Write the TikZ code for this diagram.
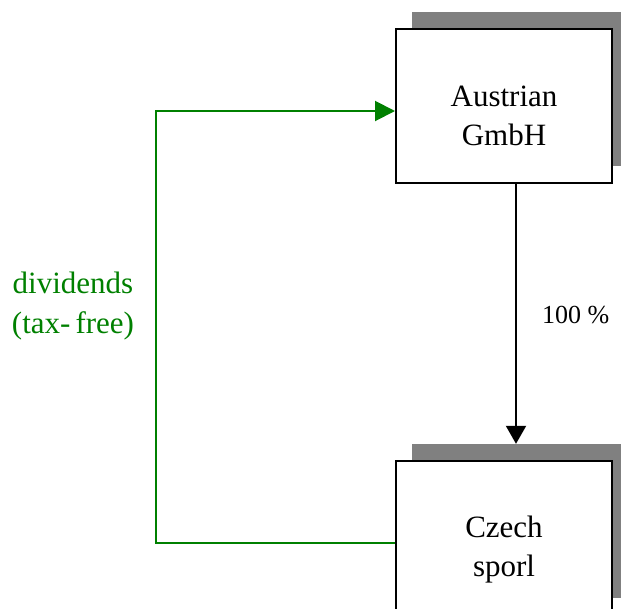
\documentclass[tikz,border=0pt]{standalone}
\usepackage{fontspec}
\setmainfont{Liberation Serif}
\usetikzlibrary{arrows.meta,calc}
\definecolor{divgreen}{RGB}{0,128,0}
\definecolor{shadowgray}{RGB}{128,128,128}
\tikzset{
  entity/.style={draw=black, line width=2pt, fill=white, minimum width=216pt, minimum height=154pt, inner sep=0pt},
  shadowbox/.style={fill=shadowgray, draw=none, minimum width=216pt, minimum height=154pt, inner sep=0pt},
  boxtext/.style={font=\fontsize{31}{38.5}\selectfont, align=center, inner sep=0pt, anchor=base},
  lbl/.style={font=\fontsize{31}{40}\selectfont, align=center, inner sep=0pt},
  pct/.style={font=\fontsize{26}{40}\selectfont, inner sep=0pt},
  own/.style={line width=2pt, -{Triangle[length=18pt,width=20pt]}},
  div/.style={draw=divgreen, line width=2pt, -{Triangle[length=20pt,width=20pt]}}
}
\begin{document}
\begin{tikzpicture}[x=1pt,y=-1pt]
\useasboundingbox (0,0) rectangle (621,608);
\node[shadowbox] (As) at (520,89) {};
\node[shadowbox] (Cs) at (520,521) {};
\node[entity] (A) at (504,106) {};
\node[entity] (C) at (504,538) {};
\node[boxtext] (At) at (504,145) {Austrian\\GmbH};
\node[boxtext] (Ct) at (504,576) {Czech\\sporl};
\coordinate (top) at (516,183);
\coordinate (ul) at (156,111);
\coordinate (ll) at (156,543);
\draw[own] (top) -- (top |- Cs.north);
\draw[div] (C.west |- ll) -- (ll) -- (ul) -- (A.west |- ul);
\node[lbl, text=divgreen, anchor=base] (d1) at (73,293) {dividends};
\node[lbl, text=divgreen, anchor=base] (d2) at (73,333) {(tax-\kern5pt free)};
\node[pct, anchor=base west] (p) at (542,323) {100 \%};
\end{tikzpicture}
\end{document}
